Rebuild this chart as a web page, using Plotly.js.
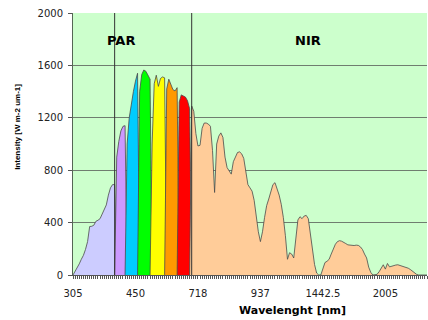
<!DOCTYPE html>
<html>
<head>
<meta charset="utf-8">
<script src="https://cdn.plot.ly/plotly-3.0.1.min.js"></script>
<style>html,body{margin:0;padding:0;background:#fff}#chart{width:428px;height:320px}</style>
</head>
<body>
<div id="chart"></div>
<script>
// Wavelength categories (nm)
const wavelengths = [
  305,310,315,320,325,330,335,340,345,350,355,360,365,370,375,380,385,390,394,397,
  400,405,410,415,420,425,430,435,440,445,450,
  460,470,480,490,500,510,520,530,540,550,560,570,580,590,600,610,620,630,640,650,
  660,670,680,685,690,695,700,706,712,718,
  725,732,740,747,754,762,769,776,783,791,798,805,813,820,827,835,842,849,857,864,
  871,878,886,893,900,908,915,922,930,937,
  954,971,988,1004,1021,1038,1055,1072,1089,1106,1122,1139,1156,1173,1190,1207,1223,1240,1257,1274,
  1291,1308,1324,1341,1358,1375,1392,1409,1426,1442.5,
  1461,1480,1499,1518,1536,1555,1574,1593,1611,1630,1649,1668,1686,1705,1724,1743,1761,1780,1799,1818,
  1836,1855,1874,1893,1911,1930,1949,1968,1986,2005,
  2024,2043,2061,2080,2099,2118,2136,2155,2174,2193,2211,2230,2249,2268,2286,2305,2324,2343,2361,2380
];
// Intensity [W m-2 um-1]
const intensity = [
  0,25,55,85,120,150,195,255,370,372,380,410,418,430,465,505,535,610,665,690,
  690,900,1020,1100,1135,1140,1000,1200,1320,1400,1480,
  1540,1400,1530,1565,1555,1530,1495,1000,1460,1525,1440,1500,1512,1505,1420,1495,1450,1415,1405,1430,
  1320,1375,1368,1358,1330,1270,1290,1250,1080,985,
  990,1120,1160,1160,1152,1135,950,630,1000,1060,1085,1050,900,820,790,770,865,905,935,940,
  925,890,800,690,665,640,570,450,330,255,
  330,440,530,580,640,690,705,665,610,540,440,300,120,170,160,130,300,420,445,430,
  450,455,430,320,200,80,15,0,0,40,
  95,105,120,160,205,235,255,262,258,252,240,230,228,222,225,228,226,215,195,160,
  130,60,20,0,0,5,25,55,78,45,
  88,62,68,72,76,78,74,68,64,58,52,42,30,15,5,0,0,0,0,0
];
// Colour bands: first wavelength of each band
const bandNames  = ['UV / deep violet','Violet','Blue','Green','Yellow','Orange','Red','NIR'];
const bandStarts = [305, 405, 430, 470, 530, 600, 660, 700];
const bandColors = ['#ccccff','#cc99ff','#00ccff','#00ff00','#ffff00','#ff9900','#ff0000','#ffcc99'];
// Tick labels shown on the wavelength axis
const tickLabels = [305, 450, 718, 937, 1442.5, 2005];
// PAR boundaries (nm)
const parBounds = [400, 700];

const cats = wavelengths.map(String);
const N = cats.length;
const traces = [];
bandStarts.forEach((w, b) => {
  const s = wavelengths.indexOf(w);
  const e = (b < bandStarts.length - 1) ? wavelengths.indexOf(bandStarts[b+1]) - 1 : N - 1;
  const lo = Math.max(s - 1, 0), hi = Math.min(e + 1, N - 1);
  const x = [], y = [];
  for (let i = lo; i <= hi; i++) {
    x.push(cats[i]);
    y.push(i < s || i > e ? 0 : intensity[i]);
  }
  traces.push({
    type: 'scatter', mode: 'lines', name: bandNames[b], x: x, y: y,
    fill: 'tozeroy', fillcolor: bandColors[b],
    line: {color: '#4a4a4a', width: 0.8},
    hoverinfo: 'skip', showlegend: false
  });
});

const shapes = parBounds.map(w => {
  const i = wavelengths.indexOf(w);
  return {type: 'line', xref: 'x', yref: 'paper', x0: i, x1: i, y0: 0, y1: 1,
          line: {color: '#333', width: 1}, layer: 'above'};
});

const layout = {
  width: 428, height: 320,
  margin: {l: 73, r: 1, t: 13, b: 45},
  paper_bgcolor: '#ffffff', plot_bgcolor: '#ccffcc',
  showlegend: false,
  font: {family: 'DejaVu Sans, sans-serif', size: 10, color: '#222'},
  xaxis: {
    type: 'category', range: [0, N - 1],
    tickmode: 'array', tickvals: cats,
    ticktext: wavelengths.map(w => tickLabels.includes(w) ? String(w) : ''),
    ticks: 'outside', ticklen: 3, tickwidth: 1, tickcolor: '#555',
    showgrid: false, zeroline: false,
    showline: true, linecolor: '#555', linewidth: 1,
    ticklabelstandoff: 6,
    tickfont: {family: 'DejaVu Sans, sans-serif', size: 10, color: '#222'}
  },
  yaxis: {
    range: [0, 2000], tickmode: 'linear', tick0: 0, dtick: 400,
    ticks: 'outside', ticklen: 4, tickcolor: '#555',
    showgrid: true, gridcolor: '#6f7d6f', gridwidth: 1,
    zeroline: false, showline: true, linecolor: '#556655', linewidth: 1,
    ticklabelstandoff: 3,
    tickfont: {family: 'DejaVu Sans, sans-serif', size: 10, color: '#222'}
  },
  shapes: shapes,
  annotations: [
    {xref: 'paper', yref: 'paper', x: 0.1364, y: 0.895, text: '<b>PAR</b>', showarrow: false,
     xanchor: 'center', yanchor: 'middle', font: {family: 'DejaVu Sans, sans-serif', size: 13, color: '#000'}},
    {xref: 'paper', yref: 'paper', x: 0.664, y: 0.895, text: '<b>NIR</b>', showarrow: false,
     xanchor: 'center', yanchor: 'middle', font: {family: 'DejaVu Sans, sans-serif', size: 13, color: '#000'}},
    {xref: 'paper', yref: 'paper', x: -0.157, y: 0.567, text: '<b>Intensity [W m-2 um-1]</b>', showarrow: false,
     textangle: -90, xanchor: 'center', yanchor: 'middle',
     font: {family: 'Liberation Sans, Arial, sans-serif', size: 8, color: '#000'}},
    {xref: 'paper', yref: 'paper', x: 0.619, y: -0.134, text: '<b>Wavelenght [nm]</b>', showarrow: false,
     xanchor: 'center', yanchor: 'middle', font: {family: 'DejaVu Sans, sans-serif', size: 11, color: '#000'}}
  ]
};

Plotly.newPlot('chart', traces, layout, {displayModeBar: false, staticPlot: true});
</script>
</body>
</html>
